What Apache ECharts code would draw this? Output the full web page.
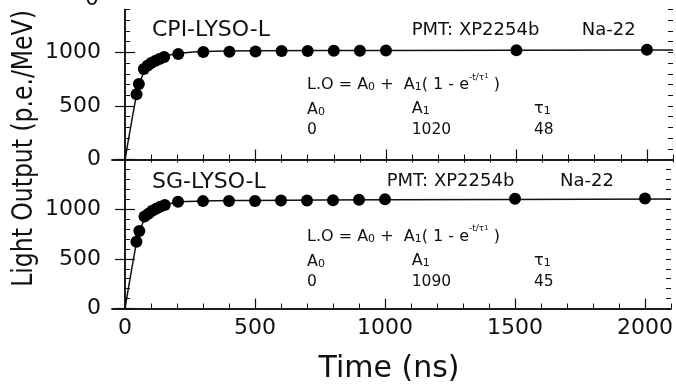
<!DOCTYPE html>
<html>
<head>
<meta charset="utf-8">
<script src="https://cdn.jsdelivr.net/npm/echarts@6/dist/echarts.min.js"></script>
<style>
  html, body { margin: 0; padding: 0; background: #fff; }
  #chart-container { width: 676px; height: 387px; }
</style>
</head>
<body>
<div id="chart-container"></div>
<script>
// measured points, CPI-LYSO-L (top panel)
var timeCpi = [44, 53, 72, 87, 100, 117, 132, 150, 204, 300, 400, 500, 600, 700, 800, 900, 1000, 1500, 2000];
var lightCpi = [610, 705, 845, 878, 900, 922, 938, 957, 985, 1004, 1006, 1008, 1013, 1012, 1014, 1015, 1018, 1020, 1025];
// fit curve as drawn
var fitTimeCpi = [0, 44, 55, 70, 90, 110, 140, 170, 220, 300, 500, 1000, 2100];
var fitLightCpi = [0, 605, 700, 800, 870, 910, 950, 975, 995, 1008, 1015, 1018, 1022];

// measured points, SG-LYSO-L (bottom panel)
var timeSg = [44, 55, 75, 90, 105, 120, 135, 153, 204, 300, 400, 500, 600, 700, 800, 900, 1000, 1500, 2000];
var lightSg = [673, 781, 925, 955, 985, 1005, 1025, 1043, 1074, 1081, 1082, 1083, 1088, 1088, 1090, 1095, 1101, 1104, 1107];
var fitTimeSg = [0, 44, 57, 75, 95, 115, 140, 170, 220, 300, 500, 1000, 2100];
var fitLightSg = [0, 660, 780, 900, 960, 1000, 1030, 1055, 1075, 1083, 1088, 1095, 1102];

var xTickLabels = [0, 500, 1000, 1500, 2000];
var yTickLabels = [0, 500, 1000];

var FONT = 'DejaVu Sans';
var INK = '#111';

function hundreds(max) {
  var out = [];
  for (var v = 0; v <= max; v += 100) out.push(v);
  return out;
}

function zip(a, b) {
  return a.map(function (v, i) { return [v, b[i]]; });
}

function plain(v) { return String(v); }

var grids = [
  { left: 112, top: 9.5, width: 561, height: 150 },
  { left: 112, top: 159.5, width: 561, height: 149 }
];

function xAxesFor(g, withLabels) {
  var base = { type: 'value', gridIndex: g, min: -50, max: 2100, splitLine: { show: false } };
  return [
    Object.assign({}, base, {
      position: 'bottom',
      axisLine: { show: true, lineStyle: { color: INK, width: 1.5 } },
      axisTick: { show: true, inside: true, length: 10, customValues: xTickLabels, lineStyle: { color: INK, width: 1.2 } },
      axisLabel: { show: withLabels, customValues: xTickLabels, formatter: plain, margin: 9, fontSize: 22, fontFamily: FONT, color: INK }
    }),
    Object.assign({}, base, {
      position: 'bottom',
      axisLine: { show: false },
      axisTick: { show: true, inside: true, length: 5, customValues: hundreds(2100), lineStyle: { color: INK, width: 1 } },
      axisLabel: { show: false }
    }),
    Object.assign({}, base, {
      position: 'top',
      axisLine: { show: true, lineStyle: { color: INK, width: 1.5 } },
      axisTick: { show: g === 0, inside: true, length: 3, customValues: hundreds(2100), lineStyle: { color: INK, width: 1 } },
      axisLabel: { show: false }
    })
  ];
}

function yAxesFor(g, max) {
  var base = { type: 'value', gridIndex: g, min: 0, max: max, splitLine: { show: false } };
  return [
    Object.assign({}, base, {
      position: 'left',
      axisLine: { show: true, lineStyle: { color: INK, width: 1.5 } },
      axisTick: { show: true, inside: true, length: 10, customValues: yTickLabels, lineStyle: { color: INK, width: 1.2 } },
      axisLabel: { show: true, customValues: yTickLabels, formatter: plain, margin: 11, fontSize: 22, fontFamily: FONT, color: INK }
    }),
    Object.assign({}, base, {
      position: 'left',
      axisLine: { show: false },
      axisTick: { show: true, inside: true, length: 5, customValues: hundreds(max), lineStyle: { color: INK, width: 1 } },
      axisLabel: { show: false }
    }),
    Object.assign({}, base, {
      position: 'right',
      axisLine: { show: true, lineStyle: { color: INK, width: 1.5 } },
      axisTick: { show: true, inside: true, length: 10, customValues: yTickLabels, lineStyle: { color: INK, width: 1.2 } },
      axisLabel: { show: false }
    }),
    Object.assign({}, base, {
      position: 'right',
      axisLine: { show: false },
      axisTick: { show: true, inside: true, length: 5, customValues: hundreds(max), lineStyle: { color: INK, width: 1 } },
      axisLabel: { show: false }
    })
  ];
}

// rich styles: n = normal, b = subscript, s = superscript, t = small subscript inside superscript
var RICH = {
  n: { fontSize: 16, fontFamily: FONT, fill: INK, lineHeight: 20, verticalAlign: 'bottom' },
  b: { fontSize: 11, fontFamily: FONT, fill: INK, lineHeight: 13, verticalAlign: 'bottom' },
  s: { fontSize: 9, fontFamily: FONT, fill: INK, lineHeight: 11, verticalAlign: 'top' },
  t: { fontSize: 7, fontFamily: FONT, fill: INK, lineHeight: 14, verticalAlign: 'top' }
};

function txt(x, y, s, size, align) {
  return {
    type: 'text', x: x, y: y, silent: true,
    style: { text: s, fontSize: size, fontFamily: FONT, fill: INK, align: align || 'left', verticalAlign: 'middle', rich: RICH }
  };
}

function panelTexts(name, dy, pmtX, naX, a1, tau) {
  return [
    txt(152, 30.5 + dy, name, 22),
    txt(pmtX, 30 + dy, 'PMT: XP2254b', 18),
    txt(naX, 30 + dy, 'Na-22', 18),
    txt(307, 83 + dy, '{n|L.O = A}{b|0}{n| +  A}{b|1}{n|( 1 - e}{s|-t/τ}{t|1}{n| )}', 16),
    txt(307, 108 + dy, '{n|A}{b|0}', 16),
    txt(411.7, 107 + dy, '{n|A}{b|1}', 16),
    txt(534, 107 + dy, '{n|τ}{b|1}', 16),
    txt(307, 130 + dy, '0', 15.5),
    txt(411.7, 130 + dy, a1, 15.5),
    txt(534, 130 + dy, tau, 15.5)
  ];
}

var dom = document.getElementById('chart-container');
var myChart = echarts.init(dom, null, { renderer: 'canvas' });

var option = {
  animation: false,
  backgroundColor: '#fff',
  grid: grids,
  xAxis: xAxesFor(0, false).concat(xAxesFor(1, true)),
  yAxis: yAxesFor(0, 1400).concat(yAxesFor(1, 1500)),
  series: [
    {
      type: 'line', xAxisIndex: 0, yAxisIndex: 0, data: zip(fitTimeCpi, fitLightCpi),
      showSymbol: false, smooth: 0.3, lineStyle: { color: INK, width: 1.5 }, z: 2
    },
    {
      type: 'scatter', xAxisIndex: 0, yAxisIndex: 0, data: zip(timeCpi, lightCpi),
      symbolSize: 12, itemStyle: { color: '#000', opacity: 1 }, z: 3
    },
    {
      type: 'line', xAxisIndex: 3, yAxisIndex: 4, data: zip(fitTimeSg, fitLightSg),
      showSymbol: false, smooth: 0.3, lineStyle: { color: INK, width: 1.5 }, z: 2
    },
    {
      type: 'scatter', xAxisIndex: 3, yAxisIndex: 4, data: zip(timeSg, lightSg),
      symbolSize: 12, itemStyle: { color: '#000', opacity: 1 }, z: 3
    }
  ]
};
myChart.setOption(option);

// only the last digit of the 1500 label survives above the top frame
var y1500 = myChart.convertToPixel({ yAxisIndex: 0 }, 1500);

var texts = []
  .concat(panelTexts('CPI-LYSO-L', 0, 411.7, 581.7, '1020', '48'))
  .concat(panelTexts('SG-LYSO-L', 151.5, 386.7, 560, '1090', '45'));
texts.push(txt(99, y1500, '0', 22, 'right'));
texts.push(txt(389, 369, 'Time (ns)', 30, 'center'));
texts.push({
  type: 'text', x: 25, y: 148.5, rotation: Math.PI / 2, scaleY: 1.2, silent: true,
  style: { text: 'Light Output (p.e./MeV)', fontSize: 23.5, fontFamily: FONT, fill: INK, align: 'center', verticalAlign: 'middle' }
});

myChart.setOption({ graphic: texts });

window.addEventListener('resize', myChart.resize);
</script>
</body>
</html>
